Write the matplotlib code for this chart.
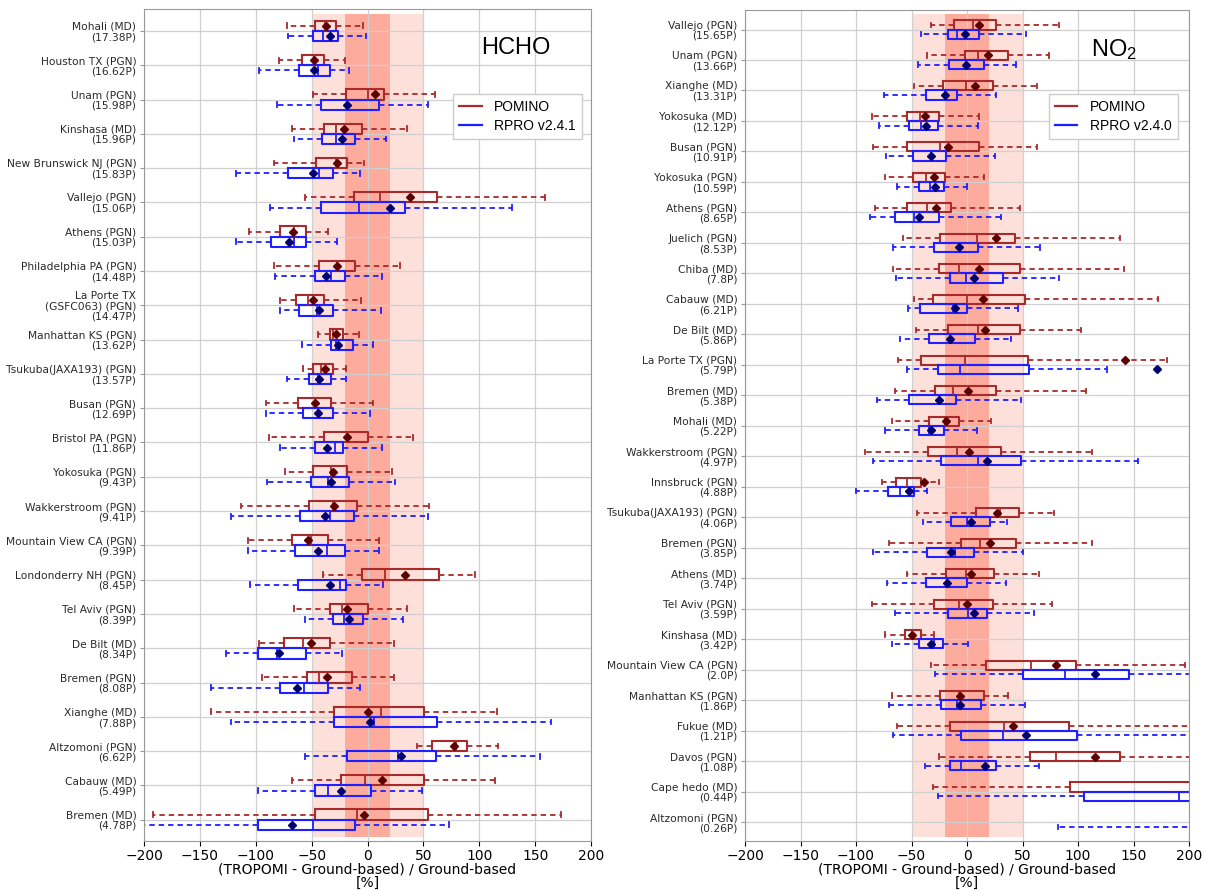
import matplotlib
matplotlib.use("Agg")
import matplotlib.pyplot as plt
from matplotlib.lines import Line2D

# ---------------- HCHO data ----------------
hcho_labels = ["Mohali (MD)\n(17.38P)", "Houston TX (PGN)\n(16.62P)", "Unam (PGN)\n(15.98P)",
               "Kinshasa (MD)\n(15.96P)", "New Brunswick NJ (PGN)\n(15.83P)", "Vallejo (PGN)\n(15.06P)",
               "Athens (PGN)\n(15.03P)", "Philadelphia PA (PGN)\n(14.48P)",
               "La Porte TX\n(GSFC063) (PGN)\n(14.47P)", "Manhattan KS (PGN)\n(13.62P)",
               "Tsukuba(JAXA193) (PGN)\n(13.57P)", "Busan (PGN)\n(12.69P)", "Bristol PA (PGN)\n(11.86P)",
               "Yokosuka (PGN)\n(9.43P)", "Wakkerstroom (PGN)\n(9.41P)", "Mountain View CA (PGN)\n(9.39P)",
               "Londonderry NH (PGN)\n(8.45P)", "Tel Aviv (PGN)\n(8.39P)", "De Bilt (MD)\n(8.34P)",
               "Bremen (PGN)\n(8.08P)", "Xianghe (MD)\n(7.88P)", "Altzomoni (PGN)\n(6.62P)",
               "Cabauw (MD)\n(5.49P)", "Bremen (MD)\n(4.78P)"]
# POMINO
hcho_p_wlo = [-72, -79, -49, -68, -84, -56, -106, -84, -78, -44, -58, -91, -88, -74, -113, -107, -40, -66, -97, -94, -140, 44, -68, -192]
hcho_p_q1 = [-47, -59, -19, -39, -46, -12, -78, -43, -64, -34, -49, -62, -39, -49, -52, -68, -5, -34, -75, -54, -30, 58, -24, -47]
hcho_p_med = [-38, -48, 0, -28, -28, 11, -66, -27, -53, -31, -42, -47, -18, -33, -31, -51, 16, -23, -58, -43, 12, 79, -2, -9]
hcho_p_q3 = [-28, -39, 15, -5, -18, 62, -55, -11, -39, -22, -31, -33, 0, -18, -9, -35, 64, 0, -34, -14, 51, 89, 51, 54]
hcho_p_whi = [-4, -20, 60, 35, -3, 159, -35, 29, -6, -8, -19, 5, 41, 22, 55, 10, 96, 35, 24, 24, 116, 117, 114, 173]
hcho_p_mean = [-37, -48, 7, -21, -27, 38, -67, -27, -49, -28, -38, -47, -18, -31, -30, -53, 34, -18, -51, -36, 0, 77, 13, -3]
# RPRO v2.4.1
hcho_r_wlo = [-71, -97, -81, -66, -118, -87, -118, -83, -78, -59, -72, -91, -78, -90, -122, -107, -105, -56, -127, -140, -122, -56, -98, -215]
hcho_r_q1 = [-49, -61, -42, -41, -71, -42, -86, -47, -61, -33, -52, -58, -47, -51, -60, -65, -62, -31, -98, -78, -30, -18, -47, -98]
hcho_r_med = [-40, -44, -18, -28, -43, -8, -66, -33, -45, -28, -44, -44, -29, -35, -34, -36, -25, -21, -81, -57, 6, 27, -35, -49]
hcho_r_q3 = [-26, -34, 10, -11, -31, 34, -55, -20, -31, -13, -33, -31, -22, -17, -12, -20, -19, -4, -55, -35, 62, 61, 3, -11]
hcho_r_whi = [-1, -17, 54, 17, -7, 129, -27, 13, 12, 5, -19, 2, 13, 25, 54, 10, 14, 32, -23, -7, 164, 154, 49, 73]
hcho_r_mean = [-34, -48, -18, -23, -49, 20, -70, -37, -43, -26, -43, -44, -36, -33, -38, -44, -34, -17, -79, -63, 2, 30, -24, -68]

# ---------------- NO2 data ----------------
no2_labels = ["Vallejo (PGN)\n(15.65P)", "Unam (PGN)\n(13.66P)", "Xianghe (MD)\n(13.31P)",
              "Yokosuka (MD)\n(12.12P)", "Busan (PGN)\n(10.91P)", "Yokosuka (PGN)\n(10.59P)",
              "Athens (PGN)\n(8.65P)", "Juelich (PGN)\n(8.53P)", "Chiba (MD)\n(7.8P)",
              "Cabauw (MD)\n(6.21P)", "De Bilt (MD)\n(5.86P)", "La Porte TX (PGN)\n(5.79P)",
              "Bremen (MD)\n(5.38P)", "Mohali (MD)\n(5.22P)", "Wakkerstroom (PGN)\n(4.97P)",
              "Innsbruck (PGN)\n(4.88P)", "Tsukuba(JAXA193) (PGN)\n(4.06P)", "Bremen (PGN)\n(3.85P)",
              "Athens (MD)\n(3.74P)", "Tel Aviv (PGN)\n(3.59P)", "Kinshasa (MD)\n(3.42P)",
              "Mountain View CA (PGN)\n(2.0P)", "Manhattan KS (PGN)\n(1.86P)", "Fukue (MD)\n(1.21P)",
              "Davos (PGN)\n(1.08P)", "Cape hedo (MD)\n(0.44P)", "Altzomoni (PGN)\n(0.26P)"]
# POMINO
no2_p_wlo = [-32, -36, -48, -86, -85, -74, -83, -58, -67, -48, -46, -62, -65, -68, -92, -77, -45, -70, -54, -86, -74, -32, -68, -63, -25, -31, 260]
no2_p_q1 = [-12, -2, -22, -54, -54, -49, -54, -24, -25, -31, -17, -41, -29, -34, -35, -64, 8, -5, -19, -30, -56, 17, -24, -15, 57, 93, 300]
no2_p_med = [5, 10, -1, -42, -24, -37, -36, 9, -7, 0, 10, -2, -13, -20, -9, -54, 30, 12, -1, -7, -50, 58, -7, 33, 80, 250, 350]
no2_p_q3 = [26, 37, 23, -25, 11, -20, -14, 43, 48, 52, 48, 55, 26, -7, 31, -41, 47, 44, 24, 23, -41, 98, 15, 92, 138, 400, 420]
no2_p_whi = [83, 74, 63, 11, 63, 15, 48, 138, 141, 172, 103, 180, 107, 22, 113, -25, 78, 113, 65, 77, -30, 196, 37, 230, 240, 600, 500]
no2_p_mean = [11, 19, 7, -38, -17, -30, -28, 26, 11, 14, 16, 142, 1, -19, 2, -39, 27, 21, 4, 0, -50, 80, -6, 41, 115, 300, 380]
# RPRO v2.4.0
no2_r_wlo = [-41, -44, -75, -79, -73, -63, -87, -67, -64, -53, -60, -54, -81, -74, -85, -100, -40, -85, -72, -65, -68, -29, -70, -67, -38, -26, 82]
no2_r_q1 = [-17, -16, -37, -52, -49, -43, -65, -30, -15, -42, -34, -26, -52, -43, -23, -71, -14, -36, -37, -17, -43, 50, -23, -5, -15, 105, 250]
no2_r_med = [-9, -1, -20, -41, -32, -33, -48, -7, -1, -13, -15, -6, -25, -34, 10, -60, 0, -11, -18, 1, -30, 88, -9, 32, -5, 191, 300]
no2_r_q3 = [11, 15, -9, -26, -19, -21, -25, 10, 32, 0, 7, 56, -10, -21, 49, -48, 21, 6, 0, 18, -22, 146, 13, 99, 26, 260, 380]
no2_r_whi = [53, 44, 26, 10, 25, 0, 31, 66, 83, 46, 40, 126, 49, 9, 154, -36, 36, 50, 35, 60, 1, 230, 52, 250, 65, 400, 450]
no2_r_mean = [-2, -1, -20, -37, -32, -29, -43, -7, 6, -11, -15, 171, -25, -32, 18, -52, 4, -14, -18, 6, -32, 115, -6, 53, 16, 230, 320]

C_P = "#a82a2a"
C_P_MEAN = "#5c0000"
C_R = "#1f1fff"
C_R_MEAN = "#00006e"


def make_stats(wlo, q1, med, q3, whi, mean):
    return [dict(whislo=a, q1=b, med=c, q3=d, whishi=e, mean=f, fliers=[])
            for a, b, c, d, e, f in zip(wlo, q1, med, q3, whi, mean)]


def draw(ax, labels, p, r, title, legend_r, leg_anchor):
    n = len(labels)
    ax.fill_betweenx([-0.5, n - 0.5], -50, 50, color="#fde0da", zorder=0, lw=0)
    ax.fill_betweenx([-0.5, n - 0.5], -20, 20, color="#fcab9d", zorder=0.5, lw=0)
    pos_p = [i - 0.15 for i in range(n)]
    pos_r = [i + 0.15 for i in range(n)]
    for stats, pos, c, cm in ((p, pos_p, C_P, C_P_MEAN), (r, pos_r, C_R, C_R_MEAN)):
        ax.bxp(stats, positions=pos, widths=0.3, orientation="horizontal",
               showmeans=True, showfliers=False, capwidths=0.14, patch_artist=False,
               boxprops=dict(color=c, lw=1.5),
               whiskerprops=dict(color=c, lw=1.3, ls=(0, (3, 2.2))),
               capprops=dict(color=c, lw=1.3),
               medianprops=dict(color=c, lw=1.3),
               meanprops=dict(marker="D", markerfacecolor=cm, markeredgecolor=cm, markersize=4.3))
    ax.set_xlim(-200, 200)
    ax.set_ylim(n - 0.38, -0.64)
    ax.set_yticks(range(n))
    ax.set_yticklabels(labels, fontsize=7.7, color="#2a2a2a", linespacing=1.02)
    ax.set_xticks(range(-200, 201, 50))
    ax.tick_params(axis="x", labelsize=10, pad=2.5)
    ax.tick_params(axis="y", length=3, width=0.8, color="#999999", pad=2.5)
    ax.grid(True, color="#d0d0d0", lw=0.9)
    ax.set_axisbelow(True)
    for s in ax.spines.values():
        s.set_color("#999999")
    ax.set_xlabel("(TROPOMI - Ground-based) / Ground-based\n[%]", fontsize=10, labelpad=-0.5,
                  linespacing=0.92)
    ax.text(0.832, 0.953, title, transform=ax.transAxes, fontsize=17, ha="center", va="center",
            family="Liberation Sans")
    handles = [Line2D([], [], color=C_P, lw=1.6), Line2D([], [], color=C_R, lw=1.6)]
    ax.legend(handles, ["POMINO", legend_r], loc="upper right", bbox_to_anchor=leg_anchor,
              fancybox=False, edgecolor="#cccccc", framealpha=1, borderaxespad=0,
              prop=dict(family="Liberation Sans", size=10), handlelength=1.6, handletextpad=0.9,
              borderpad=0.45, labelspacing=0.35)


plt.rcParams["mathtext.fontset"] = "custom"
plt.rcParams["mathtext.rm"] = "Liberation Sans"
plt.rcParams["mathtext.it"] = "Liberation Sans:italic"

fig = plt.figure(figsize=(12.05, 8.9), dpi=100)
ax1 = fig.add_axes([144 / 1205, 1 - 841 / 890, 447 / 1205, 832 / 890])
ax2 = fig.add_axes([745 / 1205, 1 - 841 / 890, 444 / 1205, 831 / 890])

draw(ax1, hcho_labels,
     make_stats(hcho_p_wlo, hcho_p_q1, hcho_p_med, hcho_p_q3, hcho_p_whi, hcho_p_mean),
     make_stats(hcho_r_wlo, hcho_r_q1, hcho_r_med, hcho_r_q3, hcho_r_whi, hcho_r_mean),
     "HCHO", "RPRO v2.4.1", (0.98, 0.898))
draw(ax2, no2_labels,
     make_stats(no2_p_wlo, no2_p_q1, no2_p_med, no2_p_q3, no2_p_whi, no2_p_mean),
     make_stats(no2_r_wlo, no2_r_q1, no2_r_med, no2_r_q3, no2_r_whi, no2_r_mean),
     r"NO$_2$", "RPRO v2.4.0", (0.975, 0.899))

fig.savefig("out.png", dpi=100)
